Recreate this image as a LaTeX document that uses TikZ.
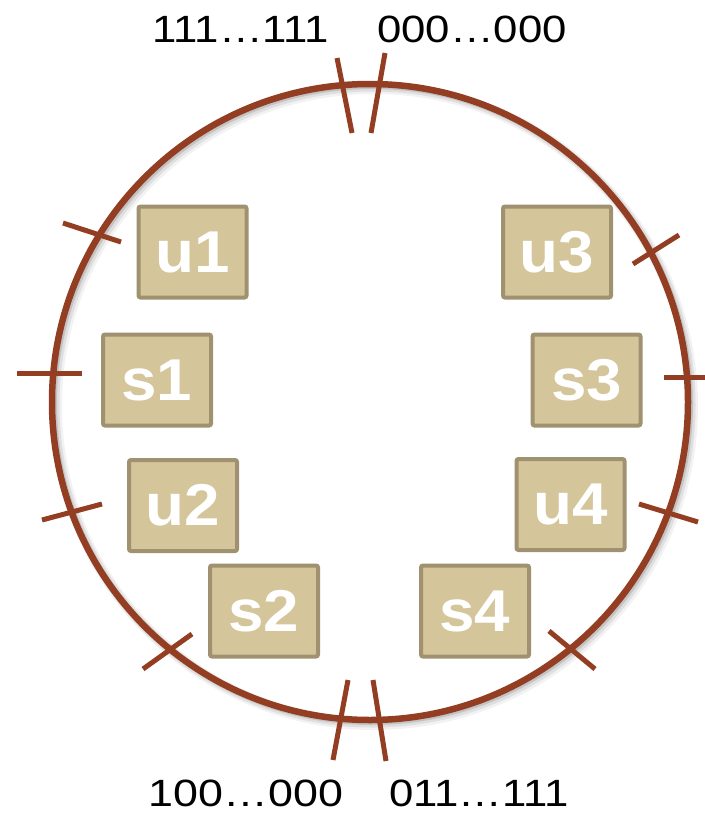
\documentclass[tikz,border=0pt]{standalone}
\usepackage{fontspec}
\setmainfont{Liberation Sans}
\definecolor{ringc}{RGB}{147,62,34}
\definecolor{boxf}{RGB}{212,197,154}
\definecolor{boxb}{RGB}{160,146,112}
\newcommand\boxlabel[1]{\scalebox{1.08}[1]{#1}}
\begin{document}
\begin{tikzpicture}[x=1pt,y=-1pt,
  ring/.style={draw=ringc, line width=6.5pt},
  ringshadow/.style={draw=black, line width=#1},
  tickline/.style={draw=ringc, line width=5pt},
  box/.style={draw=boxb, fill=boxf, line width=4pt, rounded corners=2pt,
    minimum width=108pt, minimum height=91pt, inner sep=0pt, text=white,
    font=\fontsize{59}{59}\selectfont\bfseries},
  lbl/.style={font=\fontsize{38}{38}\selectfont, inner sep=0pt, anchor=base}]
\fill[white] (0,0) rectangle (704,819);
\useasboundingbox (0,0) rectangle (704,819);
% shadow of the ring
\draw[ringshadow=12pt, opacity=0.05] (374,406) circle [radius=318pt];
\draw[ringshadow=9pt, opacity=0.08] (373,405) circle [radius=318pt];
\draw[ringshadow=6pt, opacity=0.12] (372,404) circle [radius=318pt];
% ring
\draw[ring] (370,402) circle [radius=318pt];
% ticks
\coordinate (t1a) at (337,58);  \coordinate (t1b) at (352,133);
\coordinate (t2a) at (385,53);  \coordinate (t2b) at (371,133);
\coordinate (t3a) at (63,223);  \coordinate (t3b) at (121,242);
\coordinate (t4a) at (17,373);  \coordinate (t4b) at (82,373);
\coordinate (t5a) at (42,520);  \coordinate (t5b) at (102,504);
\coordinate (t6a) at (143,669); \coordinate (t6b) at (192,634);
\coordinate (t7a) at (348,680); \coordinate (t7b) at (333,760);
\coordinate (t8a) at (373,680); \coordinate (t8b) at (386,761);
\coordinate (t9a) at (549,631); \coordinate (t9b) at (595,669);
\coordinate (t10a) at (639,504); \coordinate (t10b) at (698,522);
\coordinate (t11a) at (664,377); \coordinate (t11b) at (712,377);
\coordinate (t12a) at (633,264); \coordinate (t12b) at (679,235);
\foreach \i in {1,...,12} \draw[tickline] (t\i a) -- (t\i b);
% boxes
\node[box] (u1) at (192.5,252) {\boxlabel{u1}};
\node[box] (s1) at (157,380) {\boxlabel{s1}};
\node[box] (u2) at (183,505.5) {\boxlabel{u2}};
\node[box] (s2) at (264,611) {\boxlabel{s2}};
\node[box] (u3) at (557,252) {\boxlabel{u3}};
\node[box] (s3) at (586.5,380) {\boxlabel{s3}};
\node[box] (u4) at (570.5,504.5) {\boxlabel{u4}};
\node[box] (s4) at (475,611) {\boxlabel{s4}};
% labels
\node[lbl] (ltl) at (241,42) {\scalebox{1.15}[1]{111…111}};
\node[lbl] (ltr) at (472,42) {\scalebox{1.15}[1]{000…000}};
\node[lbl] (lbl1) at (246,806) {\scalebox{1.18}[1]{100…000}};
\node[lbl] (lbr) at (479,806) {\scalebox{1.15}[1]{011…111}};
\end{tikzpicture}
\end{document}
